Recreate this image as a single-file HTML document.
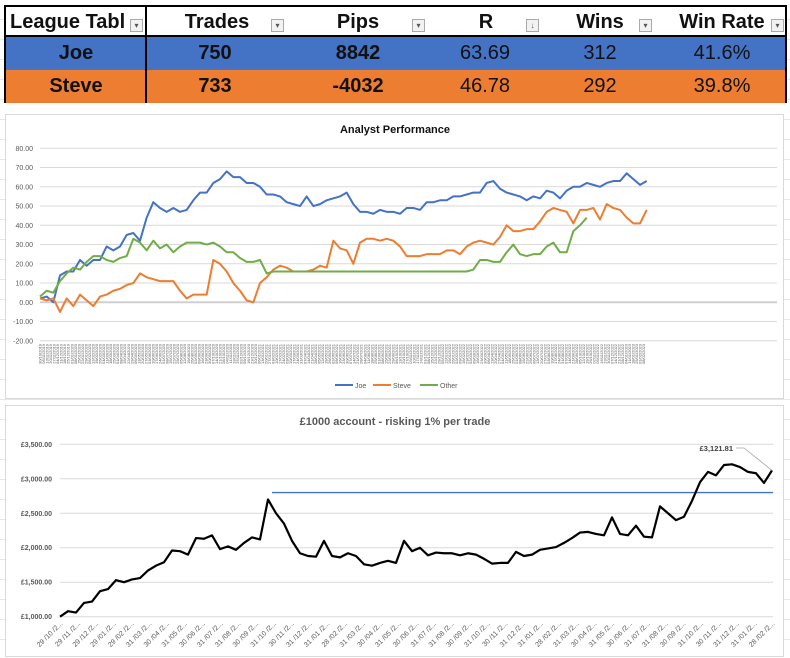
<!DOCTYPE html>
<html><head><meta charset="utf-8">
<style>
body{margin:0;width:790px;height:658px;background:#fff;position:relative;overflow:hidden;font-family:"Liberation Sans",Arial,sans-serif}
.cell{position:absolute;display:flex;align-items:center;justify-content:center;font-size:20px;color:#111;box-sizing:border-box}
.dd{position:absolute;width:13px;height:13px;border:1px solid #aaa;background:#f2f2f2;box-sizing:border-box;font-size:8px;color:#555;display:flex;align-items:center;justify-content:center}
svg{position:absolute;left:0;top:0}
</style></head><body>
<div style="position:absolute;left:0;top:0;width:790px;height:658px;background:repeating-linear-gradient(to bottom,transparent 0 19px,#e6e6e6 19px 20px)"></div>
<div style="position:absolute;left:4px;top:5px;width:783px;height:98px;background:#fff">
  <div style="position:absolute;left:0;top:31px;width:783px;height:34px;background:#4472C4"></div>
  <div style="position:absolute;left:0;top:65px;width:783px;height:33px;background:#ED7D31"></div>
  <div style="position:absolute;inset:0;border:2px solid #000;border-bottom:none"></div>
  <div style="position:absolute;left:0;top:30px;width:783px;height:2px;background:#000"></div>
  <div style="position:absolute;left:141px;top:0;width:2px;height:98px;background:#000"></div>
</div>
<div class="cell" style="left:10px;top:7px;height:30px;font-weight:bold;justify-content:flex-start">League Tabl</div>
<div class="dd" style="left:130px;top:19px">▾</div>
<div class="cell" style="left:167px;top:7px;width:100px;height:30px;font-weight:bold">Trades</div>
<div class="dd" style="left:271px;top:19px">▾</div>
<div class="cell" style="left:308px;top:7px;width:100px;height:30px;font-weight:bold">Pips</div>
<div class="dd" style="left:412px;top:19px">▾</div>
<div class="cell" style="left:436px;top:7px;width:100px;height:30px;font-weight:bold">R</div>
<div class="dd" style="left:526px;top:19px">↓</div>
<div class="cell" style="left:550px;top:7px;width:100px;height:30px;font-weight:bold">Wins</div>
<div class="dd" style="left:639px;top:19px">▾</div>
<div class="cell" style="left:662px;top:7px;width:120px;height:30px;font-weight:bold">Win Rate</div>
<div class="dd" style="left:771px;top:19px">▾</div>

<div class="cell" style="left:26px;top:36px;width:100px;height:34px;font-weight:bold">Joe</div>
<div class="cell" style="left:165px;top:36px;width:100px;height:34px;font-weight:bold">750</div>
<div class="cell" style="left:308px;top:36px;width:100px;height:34px;font-weight:bold">8842</div>
<div class="cell" style="left:435px;top:36px;width:100px;height:34px">63.69</div>
<div class="cell" style="left:550px;top:36px;width:100px;height:34px">312</div>
<div class="cell" style="left:672px;top:36px;width:100px;height:34px">41.6%</div>
<div class="cell" style="left:26px;top:70px;width:100px;height:33px;font-weight:bold">Steve</div>
<div class="cell" style="left:165px;top:70px;width:100px;height:33px;font-weight:bold">733</div>
<div class="cell" style="left:308px;top:70px;width:100px;height:33px;font-weight:bold">-4032</div>
<div class="cell" style="left:435px;top:70px;width:100px;height:33px">46.78</div>
<div class="cell" style="left:550px;top:70px;width:100px;height:33px">292</div>
<div class="cell" style="left:672px;top:70px;width:100px;height:33px">39.8%</div>

<svg id="c1" width="790" height="658"></svg>
<svg id="c2" width="790" height="658"></svg>

<script>
const NS="http://www.w3.org/2000/svg";
function mk(svg,tag,attrs,txt){const e=document.createElementNS(NS,tag);for(const k in attrs)e.setAttribute(k,attrs[k]);if(txt!==undefined)e.textContent=txt;svg.appendChild(e);return e;}

// ---------- Chart 1 data ----------
const joeValues=[2,3,0,14,16,16,22,19,22,22,29,27,29,35,36,32,44,52,49,47,49,47,48,53,57,57,62,64,68,65,65,62,62,60,56,56,55,52,51,50,55,50,51,53,54,55,57,51,47,47,46,48,47,47,46,49,49,48,52,52,53,53,55,55,56,57,57,62,63,59,57,56,55,53,55,54,58,57,54,58,60,60,62,61,60,62,63,63,67,64,61,63];
const steveValues=[2,1,2,-5,2,-2,4,1,-2,3,4,6,7,9,10,15,13,12,11,11,11,6,2,4,4,4,22,20,16,10,6,1,0,10,13,17,19,18,16,16,16,17,19,18,32,28,27,20,31,33,33,32,33,32,29,24,24,24,25,25,25,27,27,25,29,31,32,31,30,34,40,37,37,38,38,42,47,49,48,47,41,48,48,49,43,51,49,48,44,41,41,48];
const otherValues=[3,6,5,11,15,18,17,21,24,24,22,21,23,24,33,31,27,32,28,30,26,29,31,31,31,30,31,29,26,26,23,21,21,22,15,16,16,16,16,16,16,16,16,16,16,16,16,16,16,16,16,16,16,16,16,16,16,16,16,16,16,16,16,16,16,17,22,22,21,21,26,30,25,24,25,25,29,31,26,26,37,40,44];
const yTicks1=[80,70,60,50,40,30,20,10,0,-10,-20];
const legend1=["Joe","Steve","Other"];
const colors1=["#4472C4","#ED7D31","#70AD47"];

// ---------- Chart 2 data ----------
const accountValues=[1000,1080,1060,1200,1220,1370,1400,1530,1500,1540,1560,1670,1740,1790,1960,1950,1900,2140,2130,2180,1980,2020,1970,2070,2150,2120,2700,2500,2350,2100,1920,1880,1870,2100,1880,1860,1920,1880,1760,1740,1780,1810,1780,2100,1950,2000,1890,1930,1920,1920,1890,1920,1900,1840,1770,1780,1780,1940,1880,1900,1970,1990,2010,2070,2140,2220,2230,2200,2180,2440,2200,2180,2320,2160,2150,2600,2500,2400,2450,2680,2950,3100,3050,3200,3210,3170,3100,3080,2940,3121.81];
const yTicks2=[3500,3000,2500,2000,1500,1000];
const highWater=2800;
const xLabels2=["29 /10 /2...","29 /11 /2...","29 /12 /2...","29 /01 /2...","29 /02 /2...","31 /03 /2...","30 /04 /2...","31 /05 /2...","30 /06 /2...","31 /07 /2...","31 /08 /2...","30 /09 /2...","31 /10 /2...","30 /11 /2...","31 /12 /2...","31 /01 /2...","28 /02 /2...","31 /03 /2...","30 /04 /2...","31 /05 /2...","30 /06 /2...","31 /07 /2...","31 /08 /2...","30 /09 /2...","31 /10 /2...","30 /11 /2...","31 /12 /2...","31 /01 /2...","28 /02 /2...","31 /03 /2...","30 /04 /2...","31 /05 /2...","30 /06 /2...","31 /07 /2...","31 /08 /2...","30 /09 /2...","31 /10 /2...","30 /11 /2...","31 /12 /2...","31 /01 /2...","28 /02 /2..."];

// ---------- Chart 1 ----------
(function(){
const s=document.getElementById('c1');
let r=mk(s,'rect',{x:5.5,y:114.5,width:778,height:284,fill:'#fff',stroke:'#d9d9d9'});

let t=mk(s,'text',{x:395,y:133,'text-anchor':'middle','font-size':'11','font-weight':'bold',fill:'#111'},'Analyst Performance');

const X0=40,X1=646.7,N=joeValues.length;
const y=v=>302.3-(v*1.925);
const x=i=>X0+i*(X1-X0)/(N-1);
yTicks1.forEach(v=>{
  const g=mk(s,'line',{x1:40,x2:777,y1:y(v),y2:y(v),stroke:v===0?'#d0d0d0':'#d9d9d9','stroke-width':v===0?2:1});
  
  const l=mk(s,'text',{x:33,y:y(v)+2.5,'text-anchor':'end','font-size':'7',fill:'#595959'},v.toFixed(2));
  
});
// date tick labels
const start=new Date(2019,9,30);
for(let k=0;k<172;k++){
  const d=new Date(start.getTime()+k*7*86400000);
  const lab=String(d.getDate()).padStart(2,'0')+'/'+String(d.getMonth()+1).padStart(2,'0')+'/'+d.getFullYear();
  const xx=40+k*3.53;
  const e=mk(s,'text',{x:0,y:0,transform:`translate(${xx+1.5},344) rotate(-90)`,'text-anchor':'end','font-size':'4','fill':'#595959'},lab);
  
}
[joeValues,steveValues,otherValues].forEach((arr,si)=>{
  const p=mk(s,'polyline',{points:arr.map((v,i)=>x(i)+','+y(v)).join(' '),fill:'none',stroke:colors1[si],'stroke-width':2,'stroke-linejoin':'round'});
  
});
// redraw joe on top? keep order: draw others
const lx=[335,373,420];
legend1.forEach((n,i)=>{
  const l=mk(s,'line',{x1:lx[i],x2:lx[i]+18,y1:385,y2:385,stroke:colors1[i],'stroke-width':2});
  
  const tx=mk(s,'text',{x:lx[i]+20,y:388,'font-size':'7',fill:'#595959'},n);
  
});
})();

// ---------- Chart 2 ----------
(function(){
const s=document.getElementById('c2');
let r=mk(s,'rect',{x:5.5,y:405.5,width:778,height:251,fill:'#fff',stroke:'#d9d9d9'});

let t=mk(s,'text',{x:395,y:425,'text-anchor':'middle','font-size':'11','font-weight':'bold',fill:'#595959'},'£1000 account - risking 1% per trade');

const y=v=>616.7-(v-1000)*(172.4/2500);
const X0=60,X1=772,N=accountValues.length;
const x=i=>X0+i*(X1-X0)/(N-1);
yTicks2.forEach(v=>{
  const g=mk(s,'line',{x1:60,x2:773,y1:y(v),y2:y(v),stroke:'#d9d9d9'});
  
  const l=mk(s,'text',{x:52,y:y(v)+2.5,'text-anchor':'end','font-size':'7','font-weight':'bold',fill:'#595959'},'£'+v.toLocaleString('en-GB',{minimumFractionDigits:2}));
  
});
xLabels2.forEach((lab,i)=>{
  const xx=60+i*(712/(xLabels2.length-1));
  const e=mk(s,'text',{x:0,y:0,transform:`translate(${xx+3},624) rotate(-45)`,'text-anchor':'end','font-size':'7','fill':'#595959'},lab);
  
});
const hw=mk(s,'line',{x1:272,x2:773,y1:y(highWater),y2:y(highWater),stroke:'#4472C4','stroke-width':1.3});

const p=mk(s,'polyline',{points:accountValues.map((v,i)=>x(i)+','+y(v)).join(' '),fill:'none',stroke:'#000','stroke-width':2.2,'stroke-linejoin':'round'});

const last=accountValues[N-1];
const ld=mk(s,'polyline',{points:`736,448 744,448 ${x(N-1)},${y(last)}`,fill:'none',stroke:'#a6a6a6','stroke-width':0.8});

const dl=mk(s,'text',{x:733,y:451,'text-anchor':'end','font-size':'7.5','font-weight':'bold',fill:'#404040'},'£'+last.toLocaleString('en-GB',{minimumFractionDigits:2}));

})();
</script>
</body></html>
